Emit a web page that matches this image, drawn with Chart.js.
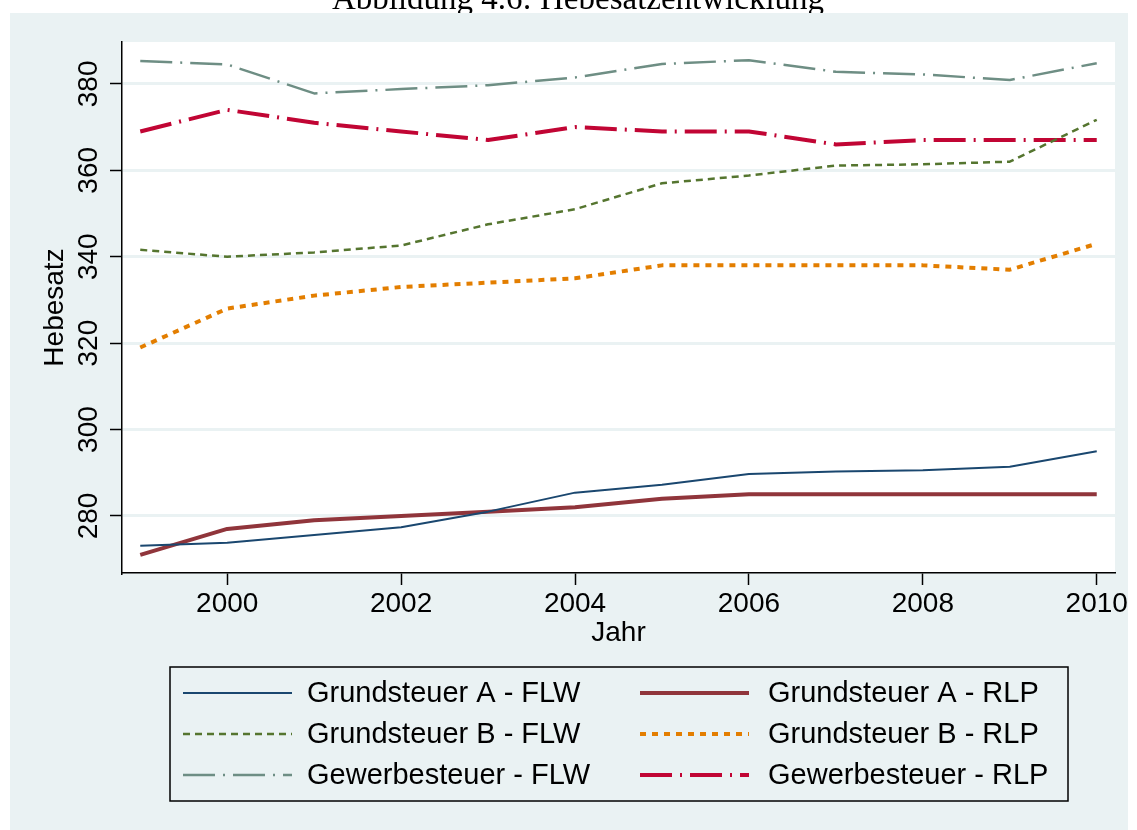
<!DOCTYPE html>
<html>
<head>
<meta charset="utf-8">
<script src="https://cdn.jsdelivr.net/npm/chart.js@4/dist/chart.umd.min.js"></script>
<style>
  html, body { margin: 0; padding: 0; background: #fff; }
  #wrap { width: 1137px; height: 830px; }
</style>
</head>
<body>
<div id="wrap"><canvas id="chart" width="1137" height="830"></canvas></div>
<script>
// Werte
const years = [1999, 2000, 2001, 2002, 2003, 2004, 2005, 2006, 2007, 2008, 2009, 2010];
const grundAFlw = [273.1, 273.8, 275.6, 277.4, 281.0, 285.4, 287.2, 289.7, 290.3, 290.6, 291.4, 295.0];
const grundARlp = [271, 277, 279, 280, 281, 282, 284, 285, 285, 285, 285, 285];
const grundBFlw = [341.6, 340.0, 341.0, 342.6, 347.5, 351.0, 357.0, 358.8, 361.1, 361.4, 362.0, 371.7];
const grundBRlp = [319, 328, 331, 333, 334, 335, 338, 338, 338, 338, 337, 343];
const gewFlw = [385.3, 384.5, 377.8, 378.8, 379.7, 381.5, 384.6, 385.5, 382.8, 382.2, 380.9, 384.8];
const gewRlp = [369, 374, 371, 369, 367, 370, 369, 369, 366, 367, 367, 367];
const seriesNames = ['Grundsteuer A - FLW', 'Grundsteuer A - RLP', 'Grundsteuer B - FLW',
  'Grundsteuer B - RLP', 'Gewerbesteuer - FLW', 'Gewerbesteuer - RLP'];
const yTicks = [280, 300, 320, 340, 360, 380];
const xTicks = [2000, 2002, 2004, 2006, 2008, 2010];

const FONT = '"Liberation Sans", Arial, Helvetica, sans-serif';
const BG = '#eaf2f3';

const toPoints = vals => years.map((yr, i) => ({ x: yr, y: vals[i] }));

const mkSet = (label, vals, color, width, dash) => ({
  label: label,
  data: toPoints(vals),
  borderColor: color,
  backgroundColor: color,
  borderWidth: width,
  borderDash: dash,
  borderCapStyle: 'butt',
  borderJoinStyle: 'round',
  pointRadius: 0,
  tension: 0,
  fill: false
});

const datasets = [
  mkSet(seriesNames[0], grundAFlw, '#1a476f', 2, []),
  mkSet(seriesNames[1], grundARlp, '#90353b', 4, []),
  mkSet(seriesNames[2], grundBFlw, '#55752f', 2.5, [7, 5]),
  mkSet(seriesNames[3], grundBRlp, '#e37e00', 4, [6, 6]),
  mkSet(seriesNames[4], gewFlw, '#6e8e84', 2.5, [32, 8, 2, 8]),
  mkSet(seriesNames[5], gewRlp, '#c10534', 4, [32, 8, 2, 8])
];

// Hintergrund, Titelzeile (oben abgeschnitten) und Legende
const stataFrame = {
  id: 'stataFrame',
  beforeDraw(chart) {
    const ctx = chart.ctx;
    const a = chart.chartArea;
    ctx.save();
    ctx.fillStyle = '#fff';
    ctx.fillRect(0, 0, chart.width, chart.height);
    ctx.fillStyle = '#000';
    ctx.font = '33px "Liberation Serif", "Times New Roman", serif';
    ctx.textAlign = 'center';
    ctx.textBaseline = 'alphabetic';
    ctx.fillText('Abbildung 4.6: Hebesatzentwicklung', 578, 9);
    ctx.fillStyle = BG;
    ctx.fillRect(10, 13, 1118, chart.height - 13);
    ctx.fillStyle = '#fff';
    ctx.fillRect(a.left, a.top, a.right - a.left, a.bottom - a.top);
    ctx.restore();
  },
  afterDraw(chart) {
    const ctx = chart.ctx;
    ctx.save();
    ctx.strokeStyle = '#000';
    ctx.lineWidth = 1.5;
    ctx.setLineDash([]);
    ctx.strokeRect(170, 667, 898, 134);
    const cols = [{ x: 183, tx: 307 }, { x: 640, tx: 768 }];
    const rows = [693, 734, 775];
    ctx.font = '29px ' + FONT;
    ctx.textBaseline = 'middle';
    ctx.textAlign = 'left';
    chart.data.datasets.forEach((ds, i) => {
      const c = cols[i % 2];
      const y = rows[Math.floor(i / 2)];
      ctx.beginPath();
      ctx.strokeStyle = ds.borderColor;
      ctx.lineWidth = ds.borderWidth;
      ctx.lineCap = 'butt';
      ctx.setLineDash(ds.borderDash);
      ctx.moveTo(c.x, y);
      ctx.lineTo(c.x + 109, y);
      ctx.stroke();
      ctx.setLineDash([]);
      ctx.fillStyle = '#000';
      ctx.fillText(ds.label, c.tx, y + 1);
    });
    ctx.restore();
  }
};

new Chart(document.getElementById('chart'), {
  type: 'line',
  data: { datasets: datasets },
  plugins: [stataFrame],
  options: {
    responsive: false,
    animation: false,
    layout: { padding: { left: 0, top: 42, right: 22, bottom: 177 } },
    plugins: { legend: { display: false }, tooltip: { enabled: false }, title: { display: false } },
    scales: {
      x: {
        type: 'linear',
        min: 1998.79,
        max: 2010.21,
        afterBuildTicks: s => { s.ticks = xTicks.map(v => ({ value: v })); },
        afterFit: s => { s.height = 80; s.paddingLeft = 0; s.paddingRight = 0; },
        ticks: {
          color: '#000',
          padding: 2,
          maxRotation: 0,
          font: { family: FONT, size: 28 },
          callback: v => String(v)
        },
        grid: { drawOnChartArea: false, tickColor: '#000', tickLength: 12, tickWidth: 1.5 },
        border: { color: '#000', width: 1.5 },
        title: { display: true, text: 'Jahr', color: '#000', font: { family: FONT, size: 28 }, padding: { top: 0, bottom: 3 } }
      },
      y: {
        type: 'linear',
        min: 266.8,
        max: 389.7,
        afterBuildTicks: s => { s.ticks = yTicks.map(v => ({ value: v })); },
        afterFit: s => { s.width = 122; s.paddingTop = 0; s.paddingBottom = 0; },
        ticks: {
          color: '#000',
          padding: -3,
          minRotation: 90,
          maxRotation: 90,
          crossAlign: 'center',
          font: { family: FONT, size: 28 }
        },
        grid: { color: BG, lineWidth: 3, tickColor: '#000', tickLength: 12, tickWidth: 1.5 },
        border: { color: '#000', width: 1.5 },
        title: { display: true, text: 'Hebesatz', color: '#000', font: { family: FONT, size: 28 }, padding: { top: 38, bottom: 0 } }
      }
    }
  }
});
</script>
</body>
</html>
